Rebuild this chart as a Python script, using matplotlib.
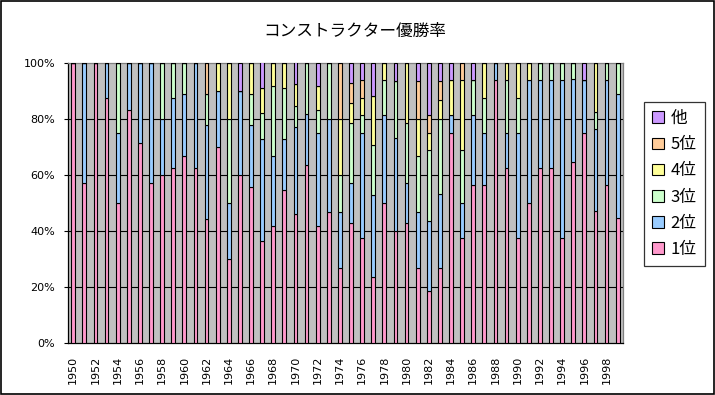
import matplotlib
matplotlib.use("Agg")
import matplotlib.pyplot as plt
import numpy as np
from matplotlib.patches import Rectangle


plt.rcParams["font.family"] = ["Noto Sans CJK JP", "DejaVu Sans"]

TITLE = "コンストラクター優勝率"
YEARS = list(range(1950, 2000))
LABELS = ["1位", "2位", "3位", "4位", "5位", "他"]
COLORS = ["#FF99CC", "#99CCFF", "#CCFFCC", "#FFFF99", "#FFCC99", "#CC99FF"]

# share of wins (%) by championship rank of the constructor
first = [100, 57.1, 100, 87.5, 50, 83.3, 71.4, 57.1, 60, 62.5,
         66.7, 62.5, 44.4, 70, 30, 60, 55.6, 36.4, 41.7, 54.5,
         46.2, 63.6, 41.7, 46.7, 26.7, 42.9, 37.5, 23.5, 50, 40,
         42.9, 26.7, 18.75, 26.67, 75, 37.5, 56.25, 56.25, 93.75, 62.5,
         37.5, 50, 62.5, 62.5, 37.5, 64.7, 75, 47.1, 56.25, 44.5]
second = [0, 42.9, 0, 12.5, 25, 16.7, 28.6, 42.9, 20, 25,
          22.2, 37.5, 33.3, 20, 20, 30, 22.2, 36.4, 25, 18.2,
          30.8, 18.2, 33.3, 33.3, 20, 14.3, 37.5, 29.4, 31.25, 33.3,
          14.3, 20, 25, 26.67, 6.25, 12.5, 25, 18.75, 6.25, 12.5,
          37.5, 43.75, 31.25, 31.25, 56.25, 29.4, 18.75, 29.4, 37.5, 44.5]
third = [0, 0, 0, 0, 25, 0, 0, 0, 20, 12.5,
         11.1, 0, 11.1, 0, 30, 0, 11.1, 9.1, 25, 18.2,
         7.7, 18.2, 8.3, 20, 13.3, 21.4, 6.25, 17.6, 12.5, 20,
         21.4, 20, 25, 26.67, 0, 18.75, 12.5, 12.5, 0, 18.75,
         12.5, 0, 6.25, 6.25, 6.25, 5.9, 0, 5.9, 6.25, 11]
fourth = [0, 0, 0, 0, 0, 0, 0, 0, 0, 0,
          0, 0, 0, 10, 20, 0, 11.1, 9.1, 8.3, 9.1,
          7.7, 0, 8.3, 0, 20, 7.1, 6.25, 17.6, 6.25, 0,
          21.4, 13.3, 6.25, 6.67, 12.5, 25, 0, 12.5, 0, 6.25,
          12.5, 6.25, 0, 0, 0, 0, 0, 17.6, 0, 0]
fifth = [0, 0, 0, 0, 0, 0, 0, 0, 0, 0,
         0, 0, 11.1, 0, 0, 0, 0, 0, 0, 0,
         0, 0, 0, 0, 20, 7.1, 6.25, 0, 0, 0,
         0, 13.3, 6.25, 6.67, 0, 6.25, 0, 0, 0, 0,
         0, 0, 0, 0, 0, 0, 0, 0, 0, 0]
other = [0, 0, 0, 0, 0, 0, 0, 0, 0, 0,
         0, 0, 0, 0, 0, 10, 0, 9.1, 0, 0,
         7.7, 0, 8.3, 0, 0, 7.1, 6.25, 11.8, 0, 6.7,
         0, 6.7, 18.75, 6.66, 6.25, 0, 6.25, 0, 0, 0,
         0, 0, 0, 0, 0, 0, 6.25, 0, 0, 0]


def main():
    series = [first, second, third, fourth, fifth, other]
    x = np.arange(len(YEARS))

    fig = plt.figure(figsize=(7.15, 3.95), dpi=100)
    ax = fig.add_axes([0.0947, 0.1309, 0.7770, 0.7104])
    ax.set_facecolor("#C0C0C0")

    bottom = np.zeros(len(YEARS))
    handles = []
    for vals, lab, col in zip(series, LABELS, COLORS):
        vals = np.array(vals, dtype=float)
        h = ax.bar(x, vals, 0.34, bottom=bottom, color=col, edgecolor="black",
                   linewidth=0.8, label=lab, zorder=3)
        handles.append(h)
        bottom += vals

    ax.set_xlim(-0.5, len(YEARS) - 0.5)
    ax.set_ylim(0, 100)
    ax.set_yticks(range(0, 101, 20))
    ax.set_yticklabels([f"{v}%" for v in range(0, 101, 20)],
                       fontsize=8, family="DejaVu Sans")
    ax.set_xticks(x)
    ax.set_xticklabels([str(y) if y % 2 == 0 else "" for y in YEARS],
                       rotation=90, fontsize=8, family="DejaVu Sans")
    ax.tick_params(axis="x", direction="in", length=3, width=0.8, pad=9)
    ax.tick_params(axis="y", direction="out", length=3, width=0.8, pad=6)

    for v in (20, 40, 60, 80):
        ax.axhline(v, color="black", linewidth=0.8, zorder=1)

    ax.spines["left"].set_color("black")
    ax.spines["bottom"].set_color("black")
    ax.spines["top"].set_color("#808080")
    ax.spines["right"].set_color("#808080")
    for s in ax.spines.values():
        s.set_linewidth(0.9)

    fig.text(355 / 715, 1 - 31 / 395, TITLE, ha="center", va="center", fontsize=12)

    leg = fig.legend(handles[::-1], LABELS[::-1], loc="center left",
                     bbox_to_anchor=(644 / 715, 1 - 184 / 395),
                     bbox_transform=fig.transFigure, fontsize=12,
                     frameon=True, fancybox=False, handlelength=0.7,
                     handleheight=0.7, handletextpad=0.4, labelspacing=0.55,
                     borderpad=0.5, borderaxespad=0)
    leg.get_frame().set_edgecolor("black")
    leg.get_frame().set_linewidth(0.9)

    fig.patches.append(Rectangle((0.001, 0.002), 0.997, 0.995, transform=fig.transFigure,
                                 fill=False, edgecolor="black", linewidth=1.2))

    fig.savefig("out.png", dpi=100)
    return 0


if __name__ == "__main__":
    raise SystemExit(main())
